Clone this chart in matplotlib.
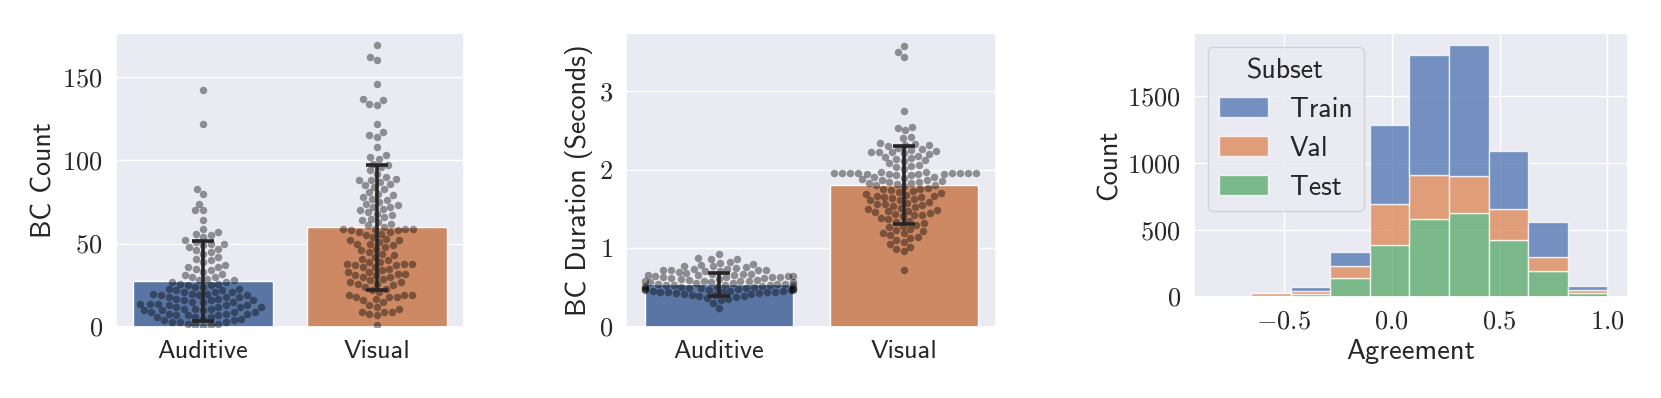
import warnings
warnings.filterwarnings("ignore")
import matplotlib
matplotlib.use("Agg")
import matplotlib.pyplot as plt
from matplotlib.ticker import FuncFormatter
from matplotlib.patches import Patch
import seaborn as sns
import pandas as pd

# ---------------- data ----------------
conditions = ["Auditive", "Visual"]

count_means = [27.5, 59.8]
count_sds = [24.1, 37.7]
count_auditive = [142, 122, 83, 80, 74, 70, 70, 64,
                  59, 57, 56, 55,
                  54, 52, 51, 50, 50,
                  49, 48, 47, 46, 45,
                  44, 42, 41, 40,
                  39, 37, 36, 36, 35,
                  34, 33, 32, 31, 30, 30,
                  29, 28, 28, 27, 27, 26, 26, 25, 25,
                  24, 24, 23, 23, 22, 22, 21, 21, 21, 20, 20, 20,
                  19, 19, 19, 18, 18, 18, 17, 17, 16, 16, 16, 15, 15, 15,
                  14, 14, 14, 13, 13, 13, 12, 12, 12, 12, 11, 11, 11, 10, 10, 10,
                  9, 9, 9, 8, 8, 8, 7, 7, 7, 6, 6, 6, 5, 5,
                  4, 4, 3, 3, 3, 2, 2, 1, 1, 0]
count_visual = [169, 162, 160, 146, 137, 136, 134, 133, 122, 117, 115, 114, 108, 103, 102, 101,
                98, 97, 96, 94, 92, 90,
                89, 88, 88, 87, 86, 85,
                84, 83, 81, 80,
                79, 78, 77, 76, 75,
                74, 73, 72, 72, 71, 70,
                69, 68, 67, 66, 65,
                64, 63, 62, 61, 60,
                59, 59, 59, 59, 58, 58, 57, 57, 56, 55,
                54, 53, 52, 52, 51, 50, 50,
                49, 48, 47, 46, 45,
                44, 43, 42, 41, 40,
                39, 39, 38, 38, 38, 37, 37, 36, 36, 35,
                34, 33, 33, 32, 32, 31, 31, 30, 30,
                29, 28, 27, 27, 26, 26, 25,
                24, 23, 22, 21,
                19, 19, 19, 18, 18, 18, 17, 16, 15,
                13, 12, 11,
                9, 9, 9, 8, 7,
                1]

dur_means = [0.545, 1.81]
dur_sds = [0.145, 0.494]
dur_auditive = [0.93, 0.88, 0.87, 0.86, 0.83, 0.82,
                0.80, 0.79, 0.78, 0.77, 0.76,
                0.75, 0.74, 0.74, 0.73, 0.73, 0.72, 0.72, 0.71, 0.71, 0.70,
                0.69, 0.68, 0.67, 0.67, 0.66, 0.66, 0.66, 0.65, 0.65, 0.65,
                0.64, 0.64, 0.63, 0.63, 0.62, 0.62, 0.61, 0.61, 0.60, 0.60,
                0.59, 0.59, 0.58, 0.58, 0.57, 0.57, 0.57, 0.56, 0.56, 0.55, 0.55, 0.55,
                0.54, 0.54, 0.53, 0.53, 0.53, 0.52, 0.52, 0.51, 0.51, 0.51, 0.50, 0.50,
                0.49, 0.49, 0.49, 0.48, 0.48, 0.48, 0.47, 0.47, 0.47, 0.47, 0.46, 0.46, 0.46,
                0.45, 0.45, 0.45, 0.44, 0.44, 0.43, 0.43, 0.42, 0.42, 0.41, 0.41, 0.40,
                0.39, 0.38, 0.37, 0.36, 0.34, 0.31, 0.24]
dur_visual = [3.58, 3.50, 3.43, 2.75, 2.55, 2.53, 2.50, 2.42, 2.41,
              2.34, 2.33, 2.32, 2.31, 2.30,
              2.28, 2.26, 2.25, 2.24, 2.23, 2.22, 2.22, 2.21, 2.20,
              2.18, 2.16, 2.15, 2.14, 2.12, 2.11,
              2.08, 2.06, 2.05, 2.03, 2.01,
              1.97, 1.97, 1.96, 1.96, 1.96, 1.96, 1.96, 1.96, 1.96, 1.96,
              1.95, 1.95, 1.95, 1.95, 1.93, 1.93, 1.91, 1.91,
              1.89, 1.88, 1.87, 1.87, 1.86, 1.85, 1.84, 1.83, 1.83, 1.82, 1.81, 1.80,
              1.79, 1.77, 1.76, 1.75, 1.74, 1.73, 1.72, 1.70,
              1.69, 1.68, 1.67, 1.67, 1.66, 1.65, 1.64, 1.63, 1.62, 1.61,
              1.59, 1.58, 1.57, 1.56, 1.55, 1.54, 1.53, 1.52, 1.50,
              1.49, 1.48, 1.47, 1.46, 1.45, 1.44, 1.43, 1.42, 1.41,
              1.39, 1.37, 1.35, 1.34, 1.32, 1.30,
              1.29, 1.27, 1.25, 1.23, 1.22, 1.20,
              1.19, 1.17, 1.15, 1.13, 1.11,
              1.08, 1.05, 1.02,
              0.99, 0.97,
              0.72]

hist_edges = [-0.835, -0.6515, -0.468, -0.2845, -0.101, 0.0825, 0.266, 0.4495, 0.633, 0.8165, 1.0]
subsets = ["Train", "Val", "Test"]
hist_test = [1, 10, 20, 140, 390, 580, 625, 427, 195, 28]
hist_val = [0, 18, 28, 92, 305, 332, 280, 230, 107, 22]
hist_train = [1, 2, 27, 108, 592, 900, 977, 438, 260, 32]

# ---------------- style ----------------
sns.set_theme(style="darkgrid")
plt.rcParams["font.family"] = ["cmss10", "DejaVu Sans"]
plt.rcParams["mathtext.fontset"] = "cm"
plt.rcParams["axes.unicode_minus"] = True

pal = sns.color_palette("deep")
bar_cols = [sns.desaturate(pal[0], 0.75), sns.desaturate(pal[1], 0.75)]
FS = 19

fig = plt.figure(figsize=(16.61, 3.98), dpi=100)
ax1 = fig.add_axes([0.0698, 0.1784, 0.2095, 0.7387])
ax2 = fig.add_axes([0.3769, 0.1784, 0.2228, 0.7387])
ax3 = fig.add_axes([1194 / 1661, (398 - 297) / 398, 434 / 1661, 264 / 398])

int_fmt = FuncFormatter(lambda v, p: r"$%d$" % round(v))
one_fmt = FuncFormatter(lambda v, p: r"$%.1f$" % v)


def bar_swarm(ax, means, sds, aud, vis, ylabel, ylim, yticks):
    ax.bar([0, 1], means, width=0.8, color=bar_cols, edgecolor="white",
           linewidth=1, zorder=2)
    df = pd.DataFrame({"cond": ["Auditive"] * len(aud) + ["Visual"] * len(vis),
                       "val": list(aud) + list(vis)})
    sns.swarmplot(data=df, x="cond", y="val", order=conditions, color="black",
                  alpha=0.4, size=5.4, linewidth=0, ax=ax, zorder=3)
    ax.errorbar([0, 1], means, yerr=sds, fmt="none", ecolor="0.15",
                elinewidth=2.6, capsize=8, capthick=2.6, zorder=4)
    ax.set_xlim(-0.5, 1.5)
    ax.set_ylim(*ylim)
    ax.set_yticks(yticks)
    ax.yaxis.set_major_formatter(int_fmt)
    ax.set_xticks([0, 1])
    ax.set_xticklabels(conditions, fontsize=FS)
    ax.tick_params(axis="y", labelsize=FS)
    ax.set_xlabel("")
    ax.set_ylabel(ylabel, fontsize=FS + 1)
    ax.grid(False, axis="x")


bar_swarm(ax1, count_means, count_sds, count_auditive, count_visual,
          "BC Count", (0, 176.5), [0, 50, 100, 150])
bar_swarm(ax2, dur_means, dur_sds, dur_auditive, dur_visual,
          "BC Duration (Seconds)", (0, 3.74), [0, 1, 2, 3])

# histogram (stacked)
alpha = 0.75
lefts = hist_edges[:-1]
widths = [hist_edges[i + 1] - hist_edges[i] for i in range(len(lefts))]
bottom_val = hist_test
bottom_train = [a + b for a, b in zip(hist_test, hist_val)]
ax3.bar(lefts, hist_test, width=widths, align="edge", color=pal[2], alpha=alpha,
        edgecolor="white", linewidth=1)
ax3.bar(lefts, hist_val, width=widths, bottom=bottom_val, align="edge", color=pal[1],
        alpha=alpha, edgecolor="white", linewidth=1)
ax3.bar(lefts, hist_train, width=widths, bottom=bottom_train, align="edge", color=pal[0],
        alpha=alpha, edgecolor="white", linewidth=1)
ax3.set_xlim(-0.915, 1.095)
ax3.set_ylim(0, 1975)
ax3.set_xticks([-0.5, 0.0, 0.5, 1.0])
ax3.set_yticks([0, 500, 1000, 1500])
ax3.xaxis.set_major_formatter(one_fmt)
ax3.yaxis.set_major_formatter(int_fmt)
ax3.tick_params(labelsize=FS)
ax3.set_xlabel("Agreement", fontsize=FS + 1.5)
ax3.set_ylabel("Count", fontsize=FS + 1)
handles = [Patch(facecolor=pal[i], alpha=alpha, edgecolor="white") for i in range(3)]
ax3.legend(handles, subsets, title="Subset", loc="upper left", fontsize=FS + 1,
           title_fontsize=FS + 1, handlelength=1.75, labelspacing=0.5)

fig.savefig("out.png", dpi=100)
